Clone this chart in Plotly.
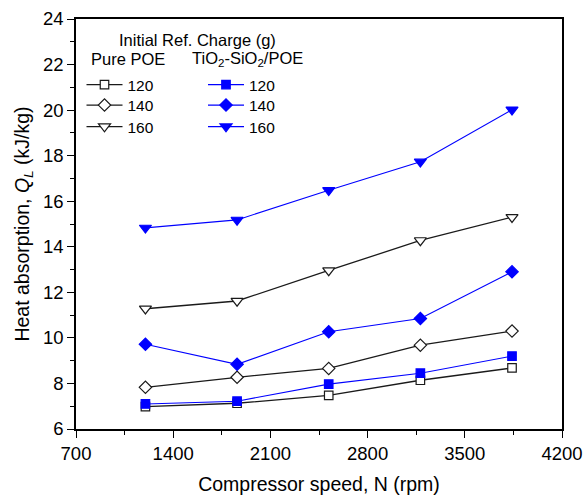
import plotly.graph_objects as go

# Compressor speed (rpm)
speed = [1200, 1860, 2520, 3180, 3840]

# Heat absorption Q_L (kJ/kg) by initial refrigerant charge
pure_120 = [6.98, 7.13, 7.48, 8.14, 8.68]
pure_140 = [7.83, 8.27, 8.66, 9.68, 10.30]
pure_160 = [11.28, 11.62, 12.96, 14.28, 15.30]
nano_120 = [7.10, 7.22, 7.97, 8.45, 9.20]
nano_140 = [9.72, 8.84, 10.27, 10.85, 12.90]
nano_160 = [14.83, 15.18, 16.48, 17.73, 20.02]

charges = ["120", "140", "160"]
symbols = ["square", "diamond", "triangle-down"]
sizes = [8.5, 9.5, 10.5]

BLUE = "#0000ff"
FONT = "Liberation Sans, Arial, sans-serif"

W, H = 583, 496
L, R, T, B = 76, 21, 19, 67
pw, ph = W - L - R, H - T - B


def px_to_paper(px, py):
    return (px - L) / pw, 1 - (py - T) / ph


# one single-entry legend per row so the two key columns line up exactly
row_y = [85, 105.5, 127]
col_x = {"pure": 81.5, "nano": 203}

legend_layouts = {}
fig = go.Figure()

groups = [
    ("pure", [pure_120, pure_140, pure_160], "#1a1a1a", "white", 1.3),
    ("nano", [nano_120, nano_140, nano_160], BLUE, BLUE, 1.1),
]
n = 0
for key, series, color, fill, lw in groups:
    for i, (label, ys, sym, sz) in enumerate(zip(charges, series, symbols, sizes)):
        n += 1
        lname = "legend" if n == 1 else f"legend{n}"
        fig.add_trace(go.Scatter(
            x=speed, y=ys, mode="lines+markers", name=label, legend=lname,
            line=dict(color=color, width=lw),
            marker=dict(symbol=sym, size=sz, color=fill,
                        line=dict(color=color, width=1.2)),
        ))
        lx, ly = px_to_paper(col_x[key], row_y[i])
        legend_layouts[lname] = dict(
            x=lx, y=ly, xanchor="left", yanchor="middle",
            xref="paper", yref="paper",
            bgcolor="rgba(0,0,0,0)", borderwidth=0,
            font=dict(family=FONT, size=15.5, color="black"),
            itemwidth=36,
        )

header_font = dict(family=FONT, size=16.5, color="black")
headers = [
    ("Initial Ref. Charge (g)", 197, 40, "center"),
    ("Pure POE", 89, 59, "left"),
    ("TiO<sub>2</sub>-SiO<sub>2</sub>/POE", 190, 59, "left"),
]
annotations = []
for text, hx, hy, anchor in headers:
    ax_, ay_ = px_to_paper(hx, hy)
    annotations.append(dict(text=text, x=ax_, y=ay_, xref="paper", yref="paper",
                            xanchor=anchor, yanchor="middle", showarrow=False,
                            font=header_font))

fig.update_layout(
    width=W, height=H,
    margin=dict(l=L, r=R, t=T, b=B),
    paper_bgcolor="white", plot_bgcolor="white",
    font=dict(family=FONT, size=18, color="black"),
    showlegend=True,
    annotations=annotations,
    xaxis=dict(
        range=[700, 4200], tick0=700, dtick=700, automargin=False,
        ticks="outside", ticklen=7, tickwidth=1.2, tickcolor="black",
        minor=dict(dtick=350, ticks="outside", ticklen=4, tickwidth=1.2, tickcolor="black"),
        showline=True, linecolor="black", linewidth=1.5, mirror=True,
        showgrid=False, zeroline=False,
        tickfont=dict(family=FONT, size=18.5),
        title=dict(text="Compressor speed, N (rpm)", standoff=14,
                   font=dict(family=FONT, size=19.5)),
    ),
    yaxis=dict(
        range=[6, 24], tick0=6, dtick=2, automargin=False,
        ticks="outside", ticklen=7, tickwidth=1.2, tickcolor="black",
        minor=dict(dtick=1, ticks="outside", ticklen=4, tickwidth=1.2, tickcolor="black"),
        showline=True, linecolor="black", linewidth=1.5, mirror=True,
        showgrid=False, zeroline=False,
        tickfont=dict(family=FONT, size=18.5),
        title=dict(text="Heat absorption, <i>Q</i><sub><i>L</i></sub> (kJ/kg)", standoff=8,
                   font=dict(family=FONT, size=19.5)),
    ),
)
fig.update_layout(**legend_layouts)

fig.write_html("out.html")
